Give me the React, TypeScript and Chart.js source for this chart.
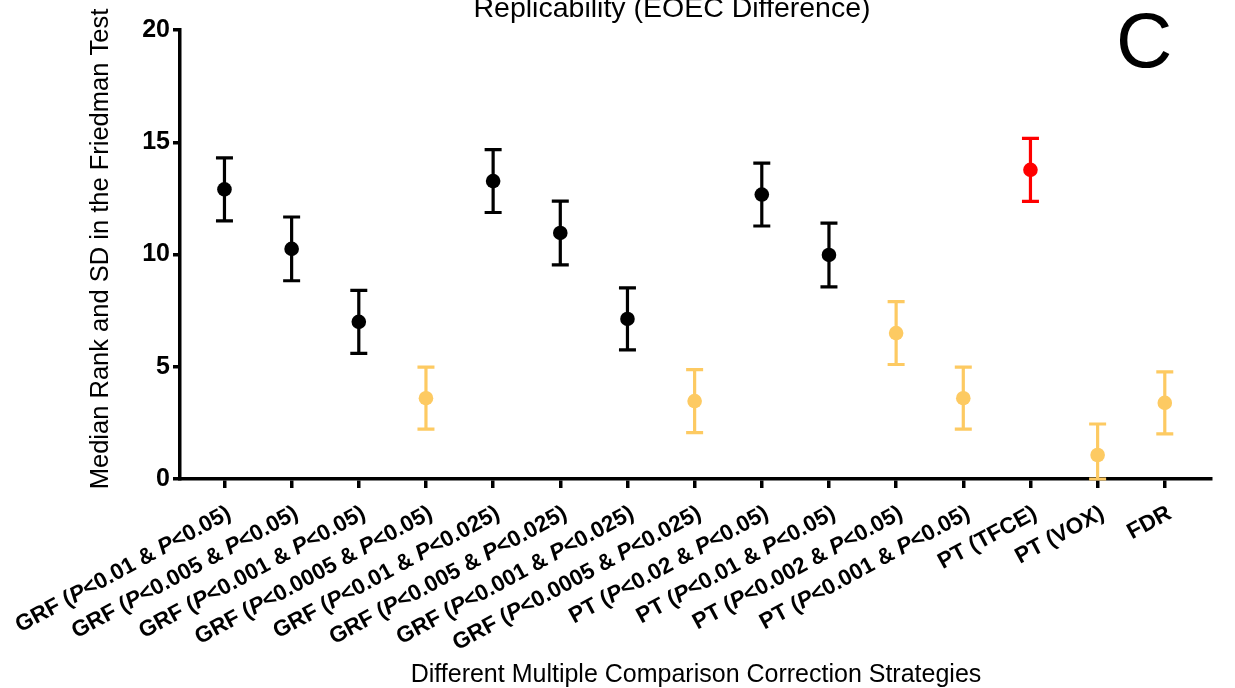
import React, { useEffect, useRef } from "react";
import { Chart, registerables } from "chart.js";

Chart.register(...registerables);

const categories = [
  "GRF (P<0.01 & P<0.05)",
  "GRF (P<0.005 & P<0.05)",
  "GRF (P<0.001 & P<0.05)",
  "GRF (P<0.0005 & P<0.05)",
  "GRF (P<0.01 & P<0.025)",
  "GRF (P<0.005 & P<0.025)",
  "GRF (P<0.001 & P<0.025)",
  "GRF (P<0.0005 & P<0.025)",
  "PT (P<0.02 & P<0.05)",
  "PT (P<0.01 & P<0.05)",
  "PT (P<0.002 & P<0.05)",
  "PT (P<0.001 & P<0.05)",
  "PT (TFCE)",
  "PT (VOX)",
  "FDR",
];
const medianRank = [12.9, 10.25, 7.0, 3.6, 13.27, 10.96, 7.13, 3.47, 12.67, 9.98, 6.5, 3.6, 13.77, 1.07, 3.39];
const sdValues = [1.4, 1.42, 1.4, 1.38, 1.4, 1.42, 1.38, 1.4, 1.4, 1.42, 1.4, 1.38, 1.4, 1.38, 1.38];
const groups = ["black", "black", "black", "yellow", "black", "black", "black", "yellow", "black", "black", "yellow", "yellow", "red", "yellow", "yellow"];
const yTicks = [0, 5, 10, 15, 20];

const palette: Record<string, string> = { black: "#000000", yellow: "#FDCA62", red: "#FF0000" };
const FONT = "'Liberation Sans', Arial, Helvetica, sans-serif";

export default function App() {
  const ref = useRef<HTMLCanvasElement | null>(null);
  useEffect(() => {
    if (!ref.current) return;
    const colors = groups.map((g) => palette[g]);

    const errorBars = {
      id: "errorBars",
      beforeDatasetsDraw(chart: any) {
        const meta = chart.getDatasetMeta(0);
        const ys = chart.scales.y;
        const ctx = chart.ctx;
        ctx.save();
        meta.data.forEach((pt: any, i: number) => {
          const hi = ys.getPixelForValue(medianRank[i] + sdValues[i]);
          const lo = ys.getPixelForValue(Math.max(0, medianRank[i] - sdValues[i]));
          ctx.strokeStyle = colors[i];
          ctx.lineWidth = 3.2;
          ctx.beginPath();
          ctx.moveTo(pt.x, hi);
          ctx.lineTo(pt.x, lo);
          ctx.moveTo(pt.x - 8.5, hi);
          ctx.lineTo(pt.x + 8.5, hi);
          ctx.moveTo(pt.x - 8.5, lo);
          ctx.lineTo(pt.x + 8.5, lo);
          ctx.stroke();
        });
        ctx.restore();
      },
    };

    const texts = {
      id: "texts",
      afterDraw(chart: any) {
        const ctx = chart.ctx;
        const xs = chart.scales.x;
        const area = chart.chartArea;
        ctx.save();
        // x tick labels with italic P
        const size = 22.5;
        const angle = (28.5 * Math.PI) / 180;
        categories.forEach((lab, i) => {
          const parts = lab.split(/(P(?=<))/).filter((s) => s.length > 0);
          const segs = parts.map((s) => ({ s, italic: s === "P" }));
          let total = 0;
          segs.forEach((sg) => {
            ctx.font = `${sg.italic ? "italic " : ""}bold ${size}px ${FONT}`;
            total += ctx.measureText(sg.s).width;
          });
          const x = xs.getPixelForValue(i);
          ctx.save();
          ctx.translate(x + 5, area.bottom + 33);
          ctx.rotate(-angle);
          ctx.textAlign = "left";
          ctx.textBaseline = "middle";
          ctx.fillStyle = "#000";
          let cx = -total;
          segs.forEach((sg) => {
            ctx.font = `${sg.italic ? "italic " : ""}bold ${size}px ${FONT}`;
            ctx.fillText(sg.s, cx, 0);
            cx += ctx.measureText(sg.s).width;
          });
          ctx.restore();
        });
        // axis titles
        ctx.fillStyle = "#000";
        ctx.font = `25px ${FONT}`;
        ctx.textAlign = "center";
        ctx.textBaseline = "middle";
        ctx.fillText("Different Multiple Comparison Correction Strategies", 696, 675);
        ctx.save();
        ctx.translate(101, 249);
        ctx.rotate(-Math.PI / 2);
        ctx.font = `25.5px ${FONT}`;
        ctx.fillText("Median Rank and SD in the Friedman Test", 0, 0);
        ctx.restore();
        // title
        ctx.font = `28.5px ${FONT}`;
        ctx.textBaseline = "alphabetic";
        ctx.fillText("Replicability (EOEC Difference)", 672, 17);
        // panel letter
        ctx.font = `78px ${FONT}`;
        ctx.textAlign = "left";
        ctx.fillText("C", 1116, 67);
        ctx.restore();
      },
    };

    const chart = new Chart(ref.current, {
      type: "scatter",
      data: {
        datasets: [
          {
            data: medianRank.map((v, i) => ({ x: i, y: v })),
            pointBackgroundColor: colors,
            pointBorderColor: colors,
            pointBorderWidth: 0,
            pointRadius: 7.3,
            showLine: false,
          },
        ],
      },
      options: {
        animation: false,
        responsive: false,
        devicePixelRatio: 1,
        layout: { padding: { top: 30, right: 24, left: 0, bottom: 0 } },
        plugins: { legend: { display: false }, tooltip: { enabled: false }, title: { display: false } },
        scales: {
          x: {
            type: "linear",
            min: -0.662,
            max: 14.688,
            afterBuildTicks: (scale: any) => {
              scale.ticks = categories.map((_, i) => ({ value: i }));
            },
            afterFit: (scale: any) => {
              scale.height = 209;
            },
            ticks: { display: false },
            grid: { display: true, drawOnChartArea: false, drawTicks: true, tickLength: 9, lineWidth: 3.5, color: "#000" },
            border: { display: true, width: 3.5, color: "#000" },
          },
          y: {
            type: "linear",
            min: 0,
            max: 20,
            afterBuildTicks: (scale: any) => {
              scale.ticks = yTicks.map((v) => ({ value: v }));
            },
            afterFit: (scale: any) => {
              scale.width = 180;
            },
            ticks: {
              padding: 3,
              color: "#000",
              font: { family: FONT, size: 25, weight: "bold" },
            },
            grid: { display: true, drawOnChartArea: false, drawTicks: true, tickLength: 7, lineWidth: 3.5, color: "#000" },
            border: { display: true, width: 3.5, color: "#000" },
          },
        },
      },
      plugins: [errorBars, texts],
    } as any);
    return () => chart.destroy();
  }, []);

  return (
    <div style={{ position: "fixed", left: 0, top: 0, width: 1235, height: 688, background: "#fff" }}>
      <canvas ref={ref} width={1235} height={688} style={{ display: "block", width: 1235, height: 688 }} />
    </div>
  );
}
